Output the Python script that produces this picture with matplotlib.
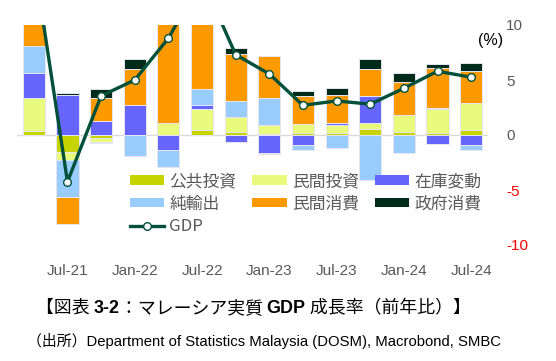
import matplotlib
matplotlib.use("Agg")
import matplotlib.pyplot as plt
import numpy as np
from matplotlib.lines import Line2D
from matplotlib.patches import Patch

quarters = ["Apr-21", "Jul-21", "Oct-21", "Jan-22", "Apr-22", "Jul-22", "Oct-22",
            "Jan-23", "Apr-23", "Jul-23", "Oct-23", "Jan-24", "Apr-24", "Jul-24"]
tick_labels = ["Jul-21", "Jan-22", "Jul-22", "Jan-23", "Jul-23", "Jan-24", "Jul-24"]

public_inv = [0.35, -1.5, -0.3, 0.0, 0.0, 0.45, 0.3, 0.1, 0.2, 0.2, 0.55, 0.3, 0.15, 0.45]
private_inv = [3.05, -0.8, -0.3, 0.0, 1.1, 1.9, 1.3, 0.8, 0.8, 0.7, 0.55, 1.5, 2.2, 2.45]
inventory = [2.2, 3.6, 1.25, 2.7, -1.35, 0.4, -0.65, -1.6, -0.9, 0.2, 2.45, 0.0, -0.8, -0.9]
net_exports = [2.5, -3.3, -0.15, -1.9, -1.6, 1.4, 1.5, 2.5, -0.45, -1.2, -4.1, -1.6, 0.1, -0.45]
private_cons = [6.8, -2.5, 2.1, 3.3, 10.0, 9.0, 4.25, 3.8, 2.55, 2.55, 2.45, 3.0, 3.6, 2.95]
gov_cons = [1.0, 0.2, 0.8, 0.9, 0.75, 1.0, 0.55, -0.15, 0.45, 0.6, 0.9, 0.8, 0.45, 0.7]
gdp = [15.9, -4.25, 3.55, 5.0, 8.8, 14.2, 7.3, 5.55, 2.7, 3.1, 2.8, 4.25, 5.8, 5.25]

series = [
    ("公共投資", public_inv, "#c8d400"),
    ("民間投資", private_inv, "#e9fb7c"),
    ("在庫変動", inventory, "#6666ff"),
    ("純輸出", net_exports, "#99ccff"),
    ("民間消費", private_cons, "#ff9900"),
    ("政府消費", gov_cons, "#002b1a"),
]

W, H = 556, 361
fig = plt.figure(figsize=(W / 100, H / 100), dpi=100)
ax_left, ax_right, ax_top, ax_bottom = 17, 488, 25, 261.5
ax = fig.add_axes([ax_left / W, 1 - ax_bottom / H, (ax_right - ax_left) / W, (ax_bottom - ax_top) / H])

x = np.arange(len(quarters))
pos_bottom = np.zeros(len(x))
neg_bottom = np.zeros(len(x))
handles = {}
for name, vals, col in series:
    v = np.array(vals, dtype=float)
    bottom = np.where(v >= 0, pos_bottom, neg_bottom)
    ax.bar(x, v, width=0.66, bottom=bottom, color=col, edgecolor="#e6e6f2",
           linewidth=0.7, zorder=2)
    pos_bottom = pos_bottom + np.where(v > 0, v, 0)
    neg_bottom = neg_bottom + np.where(v < 0, v, 0)
    handles[name] = Patch(facecolor=col, edgecolor="none")

ax.axhline(0, color="#d9d9d9", lw=1.0, zorder=1)
ax.plot(x, gdp, color="#00503a", lw=2.4, marker="o", markersize=5.5,
        markerfacecolor="white", markeredgecolor="#00503a", markeredgewidth=1.0, zorder=4)

ax.set_xlim(-0.5, 13.5)
ax.set_ylim(-11.5, 10)
for s in ax.spines.values():
    s.set_visible(False)
ax.yaxis.tick_right()
ax.set_yticks([-10, -5, 0, 5, 10])
ax.set_yticklabels(["-10", "-5", "0", "5", "10"])
ax.tick_params(axis="y", length=0, pad=13, labelsize=11)
for lab, v in zip(ax.get_yticklabels(), [-10, -5, 0, 5, 10]):
    lab.set_color("#ff0000" if v < 0 else "#595959")
    lab.set_fontfamily("Liberation Sans")
tick_pos = [quarters.index(t) for t in tick_labels]
ax.set_xticks(tick_pos)
ax.set_xticklabels(tick_labels)
ax.tick_params(axis="x", length=0, pad=2, labelsize=11, labelcolor="#595959")
for lab in ax.get_xticklabels():
    lab.set_fontfamily("Liberation Sans")

gdp_handle = Line2D([], [], color="#00503a", lw=2.4, marker="o", markersize=5.5,
                    markerfacecolor="white", markeredgecolor="#00503a")
order = ["公共投資", "純輸出", "GDP", "民間投資", "民間消費", "在庫変動", "政府消費"]
hl = [gdp_handle if n == "GDP" else handles[n] for n in order]
leg = ax.legend(hl, order, ncol=3, loc="upper left",
                bbox_to_anchor=(130 / W, 1 - 173 / H), bbox_transform=fig.transFigure,
                frameon=False, borderpad=0, borderaxespad=0, handlelength=2.05,
                handleheight=0.5, handletextpad=0.3, columnspacing=0.95, labelspacing=0.33,
                prop={"family": ["Noto Sans CJK JP", "DejaVu Sans"], "size": 12.1})
for t in leg.get_texts():
    t.set_color("#595959")

fig.text(491 / W, 1 - 40 / H, "(%)", ha="center", va="center", fontsize=11.5,
         family=["Liberation Sans"], color="black")

# title in pieces (mixed bold)
fig.canvas.draw()
renderer = fig.canvas.get_renderer()
pieces = [("【図表 ", "normal", ["Noto Sans CJK JP"]),
          ("3-2", "bold", ["Liberation Sans"]),
          ("：マレーシア実質 ", "normal", ["Noto Sans CJK JP"]),
          ("GDP", "bold", ["Liberation Sans"]),
          (" 成長率（前年比）】", "normal", ["Noto Sans CJK JP"])]
cur = 36
for txt, wt, fam in pieces:
    t = fig.text(cur / W, 1 - 313 / H, txt, ha="left", va="baseline", fontsize=12.85,
                 fontweight=wt, family=fam, color="black")
    bb = t.get_window_extent(renderer)
    cur += bb.width

fig.text(27 / W, 1 - 346 / H, "（出所）Department of Statistics Malaysia (DOSM), Macrobond, SMBC",
         ha="left", va="baseline", fontsize=10.75,
         family=["Liberation Sans", "Noto Sans CJK JP"], color="black")

fig.savefig("out.png", dpi=100)
